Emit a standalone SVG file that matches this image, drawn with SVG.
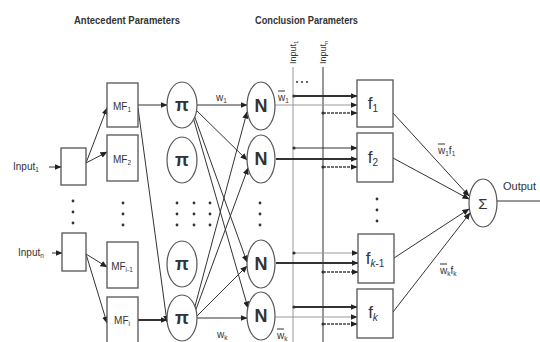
<svg xmlns="http://www.w3.org/2000/svg" width="540" height="342" viewBox="0 0 540 342">
<defs>
<marker id="ah" markerWidth="7" markerHeight="6" refX="6.5" refY="3" orient="auto" markerUnits="userSpaceOnUse">
<path d="M0,0 L7,3 L0,6 z" fill="#222"/>
</marker>
</defs>
<style>
text{font-family:"Liberation Sans",Arial,sans-serif;fill:#333}
.box{fill:#fff;stroke:#555;stroke-width:1.3}
.nd{fill:#fff;stroke:#555;stroke-width:1.2}
.ln{stroke:#333;stroke-width:1;fill:none}
.lg{stroke:#999;stroke-width:1;fill:none}
.th{stroke:#333;stroke-width:2;fill:none}
.ds{stroke:#444;stroke-width:1.6;stroke-dasharray:3 1;fill:none}
.ar{marker-end:url(#ah)}
.title{font-size:11px;font-weight:bold}
.lbl{font-size:10px}
.sym{font-size:18px;font-weight:bold;text-anchor:middle}
.mf{font-size:10px;text-anchor:middle}
.fl{font-size:17px;text-anchor:middle}
.dot{fill:#333}
</style>

<text class="title" x="74" y="24" textLength="106" lengthAdjust="spacingAndGlyphs">Antecedent Parameters</text>
<text class="title" x="255" y="24" textLength="103" lengthAdjust="spacingAndGlyphs">Conclusion Parameters</text>

<g id="connectors">
<line class="ln ar" x1="49" y1="167" x2="61" y2="167"/>
<line class="ln ar" x1="52" y1="253" x2="62" y2="253"/>
<line class="ln ar" x1="86" y1="163" x2="107" y2="108"/>
<line class="ln ar" x1="86" y1="163" x2="107" y2="152"/>
<line class="ln ar" x1="86" y1="254" x2="107" y2="267"/>
<line class="ln ar" x1="86" y1="254" x2="107" y2="323"/>
<line class="ln ar" x1="138" y1="105" x2="167" y2="105"/>
<line class="ln ar" x1="138" y1="108" x2="167" y2="322"/>
<line class="th ar" x1="138" y1="320" x2="167" y2="320"/>
<line class="ln ar" x1="197" y1="105" x2="247" y2="105"/>
<line class="ln ar" x1="196" y1="110" x2="247" y2="160"/>
<line class="ln ar" x1="194" y1="115" x2="247" y2="262"/>
<line class="ln ar" x1="193" y1="117" x2="248" y2="308"/>
<line class="ln ar" x1="197" y1="318" x2="247" y2="318"/>
<line class="ln ar" x1="197" y1="316" x2="247" y2="266"/>
<line class="ln ar" x1="195" y1="312" x2="248" y2="168"/>
<line class="ln ar" x1="194" y1="310" x2="247" y2="112"/>
<line class="lg" x1="293" y1="67" x2="293" y2="342"/>
<line class="ln" x1="323" y1="67" x2="323" y2="342"/>
<line class="th ar" x1="294" y1="96" x2="357" y2="96"/>
<line class="lg ar" x1="275" y1="105" x2="357" y2="105"/>
<line class="ds ar" x1="323" y1="113" x2="357" y2="113"/>
<line class="ln ar" x1="294" y1="148" x2="357" y2="148"/>
<line class="th ar" x1="276" y1="159" x2="357" y2="159"/>
<line class="ds ar" x1="323" y1="167" x2="357" y2="167"/>
<line class="lg ar" x1="294" y1="253" x2="358" y2="253"/>
<line class="th ar" x1="276" y1="263" x2="358" y2="263"/>
<line class="ds ar" x1="323" y1="272" x2="358" y2="272"/>
<line class="th ar" x1="294" y1="307" x2="357" y2="307"/>
<line class="lg ar" x1="275" y1="317" x2="357" y2="317"/>
<line class="ds ar" x1="323" y1="324" x2="357" y2="324"/>
<line class="ln ar" x1="393" y1="113" x2="469" y2="196"/>
<line class="ln ar" x1="393" y1="158" x2="469" y2="199"/>
<line class="ln ar" x1="394" y1="258" x2="469" y2="209"/>
<line class="ln ar" x1="393" y1="312" x2="470" y2="213"/>
<line class="ln" x1="497" y1="201" x2="540" y2="201"/>
<circle class="dot" cx="294" cy="96" r="1.6"/>
<circle class="dot" cx="323" cy="113" r="1.6"/>
<circle class="dot" cx="294" cy="148" r="1.6"/>
<circle class="dot" cx="323" cy="167" r="1.6"/>
<circle class="dot" cx="294" cy="253" r="1.6"/>
<circle class="dot" cx="323" cy="272" r="1.6"/>
<circle class="dot" cx="294" cy="307" r="1.6"/>
<circle class="dot" cx="323" cy="324" r="1.6"/>
</g>

<text class="lbl" x="13" y="170">Input<tspan font-size="6.5" dy="2">1</tspan></text>
<text class="lbl" x="18" y="256">Input<tspan font-size="6.5" dy="2">n</tspan></text>
<text font-size="9" transform="translate(296,64) rotate(-90)">Input<tspan font-size="6" dy="1.5">1</tspan></text>
<text font-size="9" transform="translate(326,64) rotate(-90)">Input<tspan font-size="6" dy="1.5">n</tspan></text>
<circle class="dot" cx="297" cy="82" r="1"/><circle class="dot" cx="302" cy="82" r="1"/><circle class="dot" cx="307" cy="82" r="1"/>

<g id="input1"><rect class="box" x="61" y="148" width="25" height="37"/></g>
<g id="inputn"><rect class="box" x="62" y="233" width="24" height="38"/></g>

<g id="mf1"><rect class="box" x="107" y="83" width="31" height="44"/><text class="mf" x="122" y="110">MF<tspan font-size="6.5" dy="2">1</tspan></text></g>
<g id="mf2"><rect class="box" x="107" y="135" width="31" height="46"/><text class="mf" x="122" y="163">MF<tspan font-size="6.5" dy="2">2</tspan></text></g>
<g id="mfi1"><rect class="box" x="107" y="242" width="31" height="46"/><text class="mf" x="122" y="270">MF<tspan font-size="6.5" dy="2">i-1</tspan></text></g>
<g id="mfi"><rect class="box" x="107" y="297" width="31" height="50"/><text class="mf" x="122" y="324">MF<tspan font-size="6.5" dy="2">i</tspan></text></g>

<g id="pi1"><ellipse class="nd" cx="182" cy="105" rx="15" ry="23"/><text class="sym" x="182" y="111">π</text></g>
<g id="pi2"><ellipse class="nd" cx="182" cy="160" rx="15" ry="23"/><text class="sym" x="182" y="166">π</text></g>
<g id="pi3"><ellipse class="nd" cx="182" cy="264" rx="15" ry="23"/><text class="sym" x="182" y="270">π</text></g>
<g id="pi4"><ellipse class="nd" cx="182" cy="318" rx="15" ry="23"/><text class="sym" x="182" y="324">π</text></g>

<g id="n1"><ellipse class="nd" cx="261" cy="106" rx="14" ry="24"/><text class="sym" x="261" y="112">N</text></g>
<g id="n2"><ellipse class="nd" cx="261" cy="159" rx="14" ry="24"/><text class="sym" x="261" y="165">N</text></g>
<g id="n3"><ellipse class="nd" cx="261" cy="264" rx="14" ry="24"/><text class="sym" x="261" y="270">N</text></g>
<g id="n4"><ellipse class="nd" cx="261" cy="316" rx="14" ry="24"/><text class="sym" x="261" y="322">N</text></g>

<g id="f1"><rect class="box" x="357" y="80" width="36" height="47"/><text class="fl" x="373" y="109">f<tspan font-size="10" dy="3">1</tspan></text></g>
<g id="f2"><rect class="box" x="357" y="133" width="36" height="49"/><text class="fl" x="373" y="163">f<tspan font-size="10" dy="3">2</tspan></text></g>
<g id="fk1"><rect class="box" x="358" y="234" width="36" height="49"/><text class="fl" x="375" y="264">f<tspan font-size="10" dy="3"><tspan font-style="italic">k</tspan>-1</tspan></text></g>
<g id="fk"><rect class="box" x="357" y="289" width="36" height="49"/><text class="fl" x="373" y="318">f<tspan font-size="10" dy="3" font-style="italic">k</tspan></text></g>

<g id="sigma"><ellipse class="nd" cx="483" cy="203" rx="14" ry="24"/><text x="483" y="209" font-size="15" text-anchor="middle">Σ</text></g>

<g class="dot">
<circle cx="73" cy="201" r="1.4"/><circle cx="73" cy="212" r="1.4"/><circle cx="73" cy="223" r="1.4"/>
<circle cx="123" cy="203" r="1.4"/><circle cx="123" cy="214" r="1.4"/><circle cx="123" cy="225" r="1.4"/>
<circle cx="177" cy="203" r="1.4"/><circle cx="177" cy="214" r="1.4"/><circle cx="177" cy="225" r="1.4"/>
<circle cx="194" cy="203" r="1.4"/><circle cx="194" cy="214" r="1.4"/><circle cx="194" cy="225" r="1.4"/>
<circle cx="210" cy="203" r="1.4"/><circle cx="210" cy="214" r="1.4"/><circle cx="210" cy="225" r="1.4"/>
<circle cx="260" cy="203" r="1.4"/><circle cx="260" cy="214" r="1.4"/><circle cx="260" cy="225" r="1.4"/>
<circle cx="377" cy="199" r="1.4"/><circle cx="377" cy="210" r="1.4"/><circle cx="377" cy="221" r="1.4"/>
</g>

<text class="lbl" x="216" y="101">w<tspan font-size="6.5" dy="2">1</tspan></text>
<text class="lbl" x="217" y="338">w<tspan font-size="6.5" dy="2">k</tspan></text>
<text class="lbl" x="278" y="101">w<tspan font-size="6.5" dy="2">1</tspan></text>
<line class="ln" x1="278" y1="91" x2="285" y2="91"/>
<text class="lbl" x="277" y="339">w<tspan font-size="6.5" dy="2">k</tspan></text>
<line class="ln" x1="277" y1="329" x2="284" y2="329"/>
<text class="lbl" x="438" y="154">w<tspan font-size="6.5" dy="2">1</tspan><tspan dy="-2">f</tspan><tspan font-size="6.5" dy="2">1</tspan></text>
<line class="ln" x1="438" y1="144" x2="445" y2="144"/>
<text class="lbl" x="440" y="274">w<tspan font-size="6.5" dy="2">k</tspan><tspan dy="-2">f</tspan><tspan font-size="6.5" dy="2">k</tspan></text>
<line class="ln" x1="440" y1="264" x2="447" y2="264"/>
<text x="503" y="190" font-size="11">Output</text>
</svg>
